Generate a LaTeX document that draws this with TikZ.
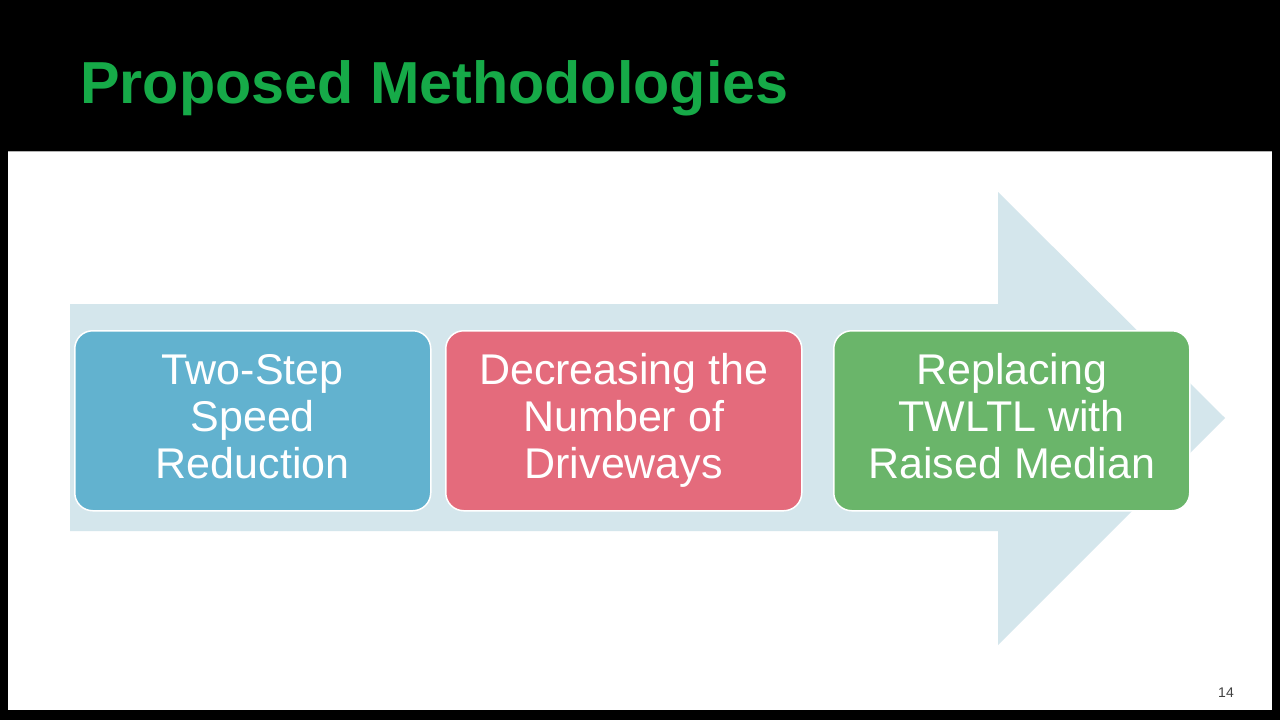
\documentclass[tikz,border=0pt]{standalone}
\usepackage{fontspec}
\setmainfont{Liberation Sans}
\definecolor{ttl}{RGB}{22,170,72}
\definecolor{arr}{RGB}{212,230,236}
\definecolor{cb}{RGB}{98,178,207}
\definecolor{cp}{RGB}{228,107,124}
\definecolor{cg}{RGB}{106,181,106}
\begin{document}
\begin{tikzpicture}[x=1pt,y=-1pt,
  box/.style={draw=white,line width=1.5pt,rounded corners=18pt,minimum width=356pt,minimum height=180pt,inner sep=0pt,anchor=north west,text=white,align=center,font=\fontsize{43}{47}\selectfont}]
\fill[black] (0,0) rectangle (1280,720);
\useasboundingbox (0,0) rectangle (1280,720);
\fill[white] (8,152) rectangle (1272,710);
\draw[gray!60,line width=1pt] (8,151) -- (1272,151);
\node[anchor=base west,inner sep=0pt,text=ttl,font=\bfseries\fontsize{59.3}{60}\selectfont] (title) at (80,103) {Proposed Methodologies};
\fill[arr] (70,304) -- (998,304) -- (998,192) -- (1225,418) -- (998,645) -- (998,531) -- (70,531) -- cycle;
\node[box,fill=cb] (a) at (74,330) {Two-Step\\Speed\\Reduction\vphantom{y}};
\node[box,fill=cp] (b) at (445,330) {Decreasing the\\Number of\\Driveways\vphantom{y}};
\node[box,fill=cg] (c) at (833,330) {\vphantom{T}Replacing\\TWLTL with\\Raised Median\vphantom{y}};
\node[anchor=base,inner sep=0pt,text=black!75,font=\fontsize{14}{16}\selectfont] (pg) at (1226,697) {14};
\end{tikzpicture}
\end{document}
